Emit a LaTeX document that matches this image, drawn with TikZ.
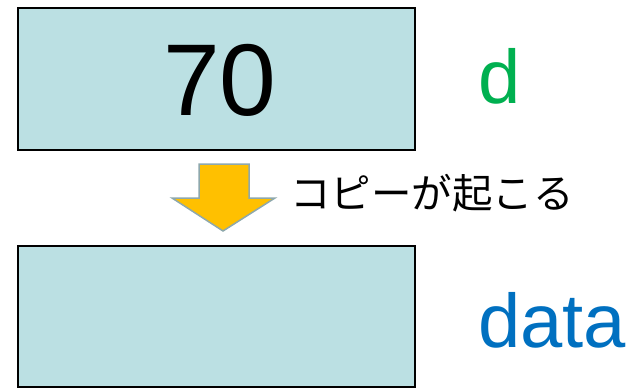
\documentclass[tikz,border=0pt]{standalone}
\usepackage{fontspec}
\setmainfont{Liberation Sans}
\newfontfamily\jpfont{Noto Sans CJK JP}
\definecolor{boxfill}{HTML}{BBE0E3}
\definecolor{arrowfill}{HTML}{FFC000}
\definecolor{arrowline}{HTML}{8EA8AC}
\definecolor{vargreen}{HTML}{00B050}
\definecolor{varblue}{HTML}{0070C0}
\begin{document}
\begin{tikzpicture}[x=1pt,y=-1pt,
  membox/.style={draw=black,fill=boxfill,line width=2pt,inner sep=0pt,
    minimum width=397pt,minimum height=142pt,anchor=north west},
  varlabel/.style={inner sep=0pt,font=\fontsize{76}{78}\selectfont}]
\useasboundingbox (0,0) rectangle (629,388);
\node[membox] (top) at (17,6.5) {};
\node[membox,minimum height=141pt] (bottom) at (17,245) {};
\node[inner sep=0pt,font=\fontsize{102}{104}\selectfont,anchor=base] (val) at (220,115) {70};
\node[varlabel,text=vargreen,anchor=base west] (d) at (478,103) {d};
\node[varlabel,text=varblue,anchor=base west] (data) at (478,347) {data};
\draw[fill=arrowfill,draw=arrowline,line width=1.5pt,line join=miter]
  (199,164) -- (249,164) -- (249,198) -- (275,198) -- (223,231) -- (172,198) -- (199,198) -- cycle;
\node[inner sep=0pt,anchor=west,font=\jpfont\fontsize{40.5}{42}\selectfont] (copy) at (290,193) {コピーが起こる};
\end{tikzpicture}
\end{document}
